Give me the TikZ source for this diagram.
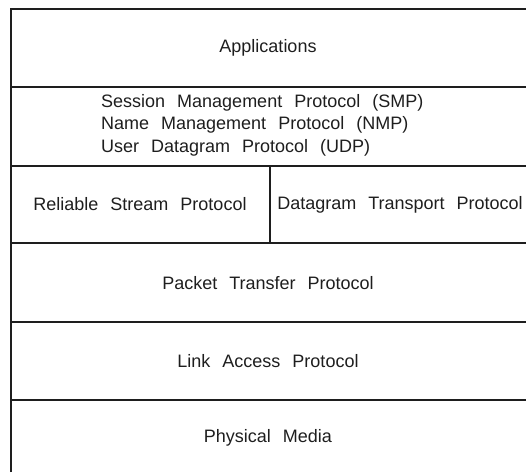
\documentclass[tikz,border=0pt]{standalone}
\usepackage{fontspec}
\setmainfont{Liberation Sans}[WordSpace=2.4]
\usepackage{tikz}
\tikzset{>=latex}
\usetikzlibrary{positioning}
\definecolor{rule}{RGB}{30,30,30}
\tikzset{
    layer/.style = {font = \fontsize{18}{22.5}\selectfont, inner sep = 0pt, text = rule},
    frame/.style = {rule, line width = 1.5pt}
}

\begin{document}
\begin{tikzpicture}[x=1pt, y=-1pt]
            \useasboundingbox (0, 0) rectangle (526, 472);
            \draw[frame] (11, 472) -- (11, 9) -- (526, 9);
            \foreach \y in {87, 166, 243, 322, 400} {
                \draw[frame] (11, \y) -- (526, \y);
            }
            \draw[frame] (270, 166) -- (270, 243);
            \node[layer] (apps) at (268, 48) {Applications};
            \node[layer, align=left, anchor=west] (upper) at (101, 125) {Session Management Protocol (SMP)\\Name Management Protocol (NMP)\\User Datagram Protocol (UDP)};
            \node[layer] (rsp) at (140, 204.5) {Reliable Stream Protocol};
            \node[layer] (dtp) at (400, 204.5) {Datagram Transport Protocol};
            \node[layer] (ptp) at (268, 283) {Packet Transfer Protocol};
            \node[layer] (lap) at (268, 361) {Link Access Protocol};
            \node[layer] (media) at (268, 438) {Physical Media};
        \end{tikzpicture}
\end{document}
